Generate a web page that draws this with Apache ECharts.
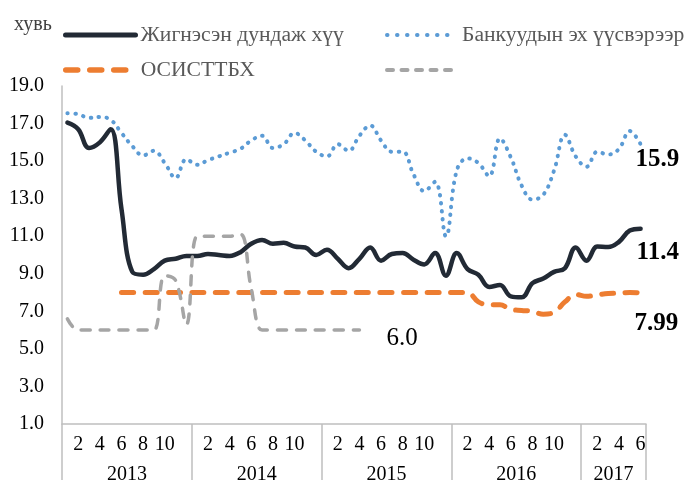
<!DOCTYPE html>
<html>
<head>
<meta charset="utf-8">
<script src="https://cdn.jsdelivr.net/npm/echarts@6/dist/echarts.min.js"></script>
<style>
html,body{margin:0;padding:0;background:#fff;}
#chart{width:685px;height:485px;}
</style>
</head>
<body>
<div id="chart"></div>
<script>
// ---- data (monthly, Jan 2013 .. Jun 2017) ----
const years = ['2013', '2014', '2015', '2016', '2017'];
const monthsPerYear = [12, 12, 12, 12, 6];
const unitLabel = 'хувь';
const seriesNames = ['Жигнэсэн дундаж хүү', 'Банкуудын эх үүсвэрээр', 'ОСИСТТБХ', ' '];

const weightedAvg = [17.05, 16.7, 15.7, 16.0, 16.7, 12.45, 9.1, 8.95, 9.25, 9.7, 9.8, 9.95,
  9.95, 10.05, 10.0, 9.95, 10.15, 10.6, 10.8, 10.6, 10.65, 10.45, 10.4, 10.0,
  10.28, 9.8, 9.3, 9.8, 10.4, 9.7, 10.05, 10.1, 9.75, 9.5, 10.1, 8.9,
  10.1, 9.25, 8.95, 8.3, 8.4, 7.8, 7.75, 8.5, 8.75, 9.1, 9.3, 10.4,
  9.7, 10.45, 10.42, 10.7, 11.3, 11.4];

const bankFunds = [17.55, 17.5, 17.3, 17.35, 17.2, 16.5, 15.8, 15.3, 15.55, 14.9, 14.1, 15.1,
  14.8, 15.05, 15.25, 15.45, 15.65, 16.1, 16.35, 15.7, 15.9, 16.5, 16.1, 15.5,
  15.25, 15.9, 15.55, 16.35, 16.9, 16.1, 15.5, 15.5, 14.3, 13.4, 13.9, 11.0,
  14.5, 15.15, 14.9, 14.2, 16.2, 15.2, 13.7, 12.95, 13.2, 14.5, 16.4, 15.25,
  14.7, 15.5, 15.35, 15.65, 16.6, 15.9];

const mortgageProg = [null, null, null, null, null, 8.0, 8.0, 8.0, 8.0, 8.0, 8.0, 8.0,
  8.0, 8.0, 8.0, 8.0, 8.0, 8.0, 8.0, 8.0, 8.0, 8.0, 8.0, 8.0,
  8.0, 8.0, 8.0, 8.0, 8.0, 8.0, 8.0, 8.0, 8.0, 8.0, 8.0, 8.0,
  8.0, 8.0, 7.5, 7.35, 7.35, 7.1, 7.05, 7.0, 6.85, 6.95, 7.5, 7.9,
  7.8, 7.88, 7.95, 7.97, 8.0, 7.99];

const grayLine = [6.6, 6.0, 6.0, 6.0, 6.0, 6.0, 6.0, 6.0, 6.0, 8.9, 8.65, 6.3,
  11.0, 11.0, 11.0, 11.0, 11.1, 8.2, 6.0, 6.0, 6.0, 6.0, 6.0, 6.0,
  6.0, 6.0, 6.0, 6.0];

const yTicks = [1, 3, 5, 7, 9, 11, 13, 15, 17, 19];

// ---- build categories ----
const categories = [];
const yearStart = [];
years.forEach((y, yi) => {
  yearStart.push(categories.length);
  for (let m = 1; m <= monthsPerYear[yi]; m++) categories.push(y + '-' + m);
});
const totalMonths = categories.length;
const yearCenters = years.map((y, yi) => yearStart[yi] + monthsPerYear[yi] / 2);

const FONT = "'Liberation Serif', 'Times New Roman', serif";

const endLbl = (offset, bold, digits) => ({
  show: true, distance: 5, offset: offset,
  formatter: p => {
    const v = Array.isArray(p.value) ? p.value[p.value.length - 1] : p.value;
    return Number(v).toFixed(digits);
  },
  fontFamily: FONT, fontSize: 25, fontWeight: bold ? 'bold' : 'normal', color: '#000'
});

const chart = echarts.init(document.getElementById('chart'), null, { renderer: 'canvas' });

const legendBase = {
  padding: 0, itemWidth: 70, itemHeight: 14, itemGap: 6,
  textStyle: { fontFamily: FONT, fontSize: 21.6, color: '#595959' },
  itemStyle: { opacity: 0 },
  selectedMode: false
};

chart.setOption({
  animation: false,
  backgroundColor: '#fff',
  title: {
    text: unitLabel, left: 14, top: 15, padding: 0,
    textStyle: { fontFamily: FONT, fontSize: 20, fontWeight: 'normal', color: '#404040' }
  },
  legend: [
    Object.assign({}, legendBase, { data: [seriesNames[0]], left: 63, top: 24,
      lineStyle: { width: 5, cap: 'round', type: 'solid', color: '#222a35' } }),
    Object.assign({}, legendBase, { data: [seriesNames[1]], left: 385, top: 24,
      lineStyle: { width: 4, cap: 'round', type: [0.5, 9.5], color: '#5b9bd5' } }),
    Object.assign({}, legendBase, { data: [seriesNames[2]], left: 63, top: 59,
      lineStyle: { width: 5.5, cap: 'round', type: [12, 12], color: '#ed7d31' } }),
    Object.assign({}, legendBase, { data: [seriesNames[3]], left: 385, top: 59,
      lineStyle: { width: 4, cap: 'round', type: [6, 8.5], color: '#a5a5a5' } })
  ],
  grid: { left: 62, right: 39, top: 86, bottom: 55, containLabel: false },
  xAxis: [
    {
      type: 'category', data: categories, boundaryGap: true, position: 'bottom',
      axisLine: { show: true, lineStyle: { color: '#bfbfbf', width: 1.5 } },
      axisTick: { show: true, interval: i => i % 12 === 0, length: 56, lineStyle: { color: '#bfbfbf', width: 1.5 } },
      axisLabel: {
        interval: 0, margin: 11, fontFamily: FONT, fontSize: 20, color: '#000',
        formatter: (v, idx) => { const m = idx % 12 + 1; return (m % 2 === 0 && m <= 10) ? String(m) : ''; }
      },
      splitLine: { show: false }
    },
    {
      type: 'value', min: 0, max: totalMonths, interval: 3, position: 'bottom',
      axisLine: { show: false }, axisTick: { show: false }, splitLine: { show: false },
      axisLabel: {
        margin: 41, fontFamily: FONT, fontSize: 20, color: '#000',
        showMinLabel: true, showMaxLabel: true,
        formatter: v => { const k = yearCenters.indexOf(v); return k >= 0 ? years[k] : ''; }
      }
    }
  ],
  yAxis: {
    type: 'value', min: yTicks[0], max: yTicks[yTicks.length - 1], interval: 2,
    axisLine: { show: true, lineStyle: { color: '#bfbfbf', width: 1.5 } },
    axisTick: { show: false },
    splitLine: { show: false },
    axisLabel: { margin: 18, fontFamily: FONT, fontSize: 20, color: '#000', formatter: v => v.toFixed(1) }
  },
  series: [
    {
      name: seriesNames[0], type: 'line', smooth: 0.4, symbol: 'none',
      data: weightedAvg,
      endLabel: endLbl([-9, 24], true, 1),
      lineStyle: { color: '#222a35', width: 4.5, cap: 'round', join: 'round' },
      itemStyle: { color: '#222a35' }
    },
    {
      name: seriesNames[1], type: 'line', smooth: 0.4, symbol: 'none',
      data: bankFunds,
      endLabel: endLbl([-10, 15], true, 1),
      lineStyle: { color: '#5b9bd5', width: 4, type: [0.5, 7.5], cap: 'round' },
      itemStyle: { color: '#5b9bd5' }
    },
    {
      name: seriesNames[2], type: 'line', smooth: 0.4, symbol: 'none',
      data: mortgageProg,
      endLabel: endLbl([-11, 31], true, 2),
      lineStyle: { color: '#ed7d31', width: 5, type: [12, 11.5], cap: 'round' },
      itemStyle: { color: '#ed7d31' }
    },
    {
      name: seriesNames[3], type: 'line', smooth: 0.4, symbol: 'none',
      data: grayLine,
      endLabel: endLbl([22, 8], false, 1),
      lineStyle: { color: '#a5a5a5', width: 3.5, type: [9, 10], cap: 'round' },
      itemStyle: { color: '#a5a5a5' }
    }
  ]
});
</script>
</body>
</html>
